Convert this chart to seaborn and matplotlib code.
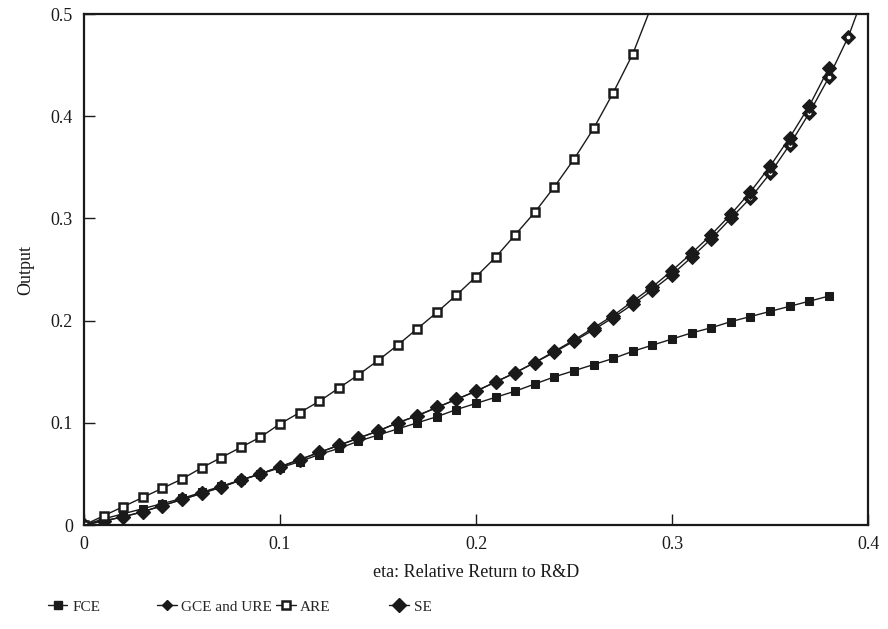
import numpy as np
import pandas as pd
import matplotlib
matplotlib.use("Agg")
from matplotlib import pyplot as plt
from matplotlib.lines import Line2D
import seaborn as sns

sns.set_theme(style='white')
plt.rcParams['font.family'] = ['Liberation Serif', 'DejaVu Serif']

# eta grid, 0 .. 0.40 step 0.01
eta = [round(0.01 * i, 2) for i in range(41)]

fce = [0, 0.006, 0.011, 0.016, 0.021, 0.026, 0.032, 0.038, 0.044, 0.050,
       0.056, 0.062, 0.069, 0.075, 0.082, 0.088, 0.094, 0.100, 0.106, 0.113,
       0.119, 0.125, 0.131, 0.138, 0.145, 0.151, 0.157, 0.163, 0.170, 0.176,
       0.182, 0.188, 0.193, 0.199, 0.204, 0.209, 0.214, 0.219, 0.224]

gce = [0, 0.004, 0.008, 0.013, 0.019, 0.025, 0.031, 0.037, 0.044, 0.050,
       0.057, 0.064, 0.071, 0.078, 0.085, 0.092, 0.100, 0.107, 0.115, 0.123,
       0.131, 0.140, 0.149, 0.159, 0.170, 0.181, 0.193, 0.205, 0.219, 0.233,
       0.249, 0.266, 0.284, 0.304, 0.326, 0.351, 0.379, 0.410, 0.447]

are = [0, 0.009, 0.018, 0.027, 0.036, 0.045, 0.056, 0.066, 0.076, 0.086,
       0.099, 0.110, 0.121, 0.134, 0.147, 0.161, 0.176, 0.192, 0.208, 0.225,
       0.243, 0.262, 0.284, 0.306, 0.331, 0.358, 0.388, 0.423, 0.461, 0.510]

se = [0, 0.004, 0.008, 0.013, 0.019, 0.025, 0.031, 0.037, 0.044, 0.050,
      0.057, 0.064, 0.071, 0.078, 0.085, 0.092, 0.100, 0.107, 0.115, 0.123,
      0.131, 0.140, 0.149, 0.159, 0.169, 0.180, 0.191, 0.203, 0.216, 0.230,
      0.245, 0.262, 0.280, 0.300, 0.320, 0.344, 0.372, 0.403, 0.438, 0.478,
      0.530]

fig = plt.figure(figsize=(8.88, 6.29), dpi=100)
ax = fig.add_axes([0.0946, 0.1653, 0.8829, 0.8124])

# SE first (big diamond with white dot), then the others on top
sns.lineplot(x=eta[:len(se)], y=se, ax=ax, color='k', lw=1, marker='D',
             markersize=7.5, markerfacecolor='k', markeredgecolor='k')
ax.scatter(eta[:len(se)], se, s=3, color='white', zorder=2)
sns.lineplot(x=eta[:len(gce)], y=gce, ax=ax, color='k', lw=1, marker='D',
             markersize=7, markerfacecolor='k', markeredgecolor='k')
sns.lineplot(x=eta[:len(fce)], y=fce, ax=ax, color='k', lw=1, marker='s',
             markersize=5.5, markerfacecolor='k', markeredgecolor='k')
sns.lineplot(x=eta[:len(are)], y=are, ax=ax, color='k', lw=1, marker='s',
             markersize=6, markerfacecolor='white', markeredgecolor='k',
             markeredgewidth=1.8)

ax.set_xlim(0, 0.4)
ax.set_ylim(0, 0.5)
ax.set_xticks([0, 0.1, 0.2, 0.3, 0.4])
ax.set_xticklabels(['0', '0.1', '0.2', '0.3', '0.4'])
ax.set_yticks([0, 0.1, 0.2, 0.3, 0.4, 0.5])
ax.set_yticklabels(['0', '0.1', '0.2', '0.3', '0.4', '0.5'])
ax.tick_params(axis='both', direction='in', length=8, width=1, colors='k',
               labelsize=13, pad=8, left=True, bottom=True)
for s in ax.spines.values():
    s.set_color('k')
    s.set_linewidth(1.6)
ax.set_xlabel('eta: Relative Return to R&D', fontsize=13, color='k', labelpad=8)
ax.set_ylabel('Output', fontsize=13, color='k', labelpad=12)

# legend entries spread along the bottom like the original
entries = [
    ('FCE', dict(marker='s', markersize=5.5, markerfacecolor='k'), 0.045),
    ('GCE and URE', dict(marker='D', markersize=5, markerfacecolor='k'), 0.168),
    ('ARE', dict(marker='s', markersize=6, markerfacecolor='white', markeredgewidth=1.8), 0.302),
    ('SE', dict(marker='D', markersize=7, markerfacecolor='k'), 0.430),
]
for label, mk, xpos in entries:
    h = Line2D([], [], color='k', lw=1, markeredgecolor='k', **mk)
    fig.legend(handles=[h], labels=[label], loc='center left',
               bbox_to_anchor=(xpos, 0.035), frameon=False, fontsize=11,
               handlelength=1.3, handletextpad=0.3, borderpad=0)

plt.savefig('out.png', dpi=100)
